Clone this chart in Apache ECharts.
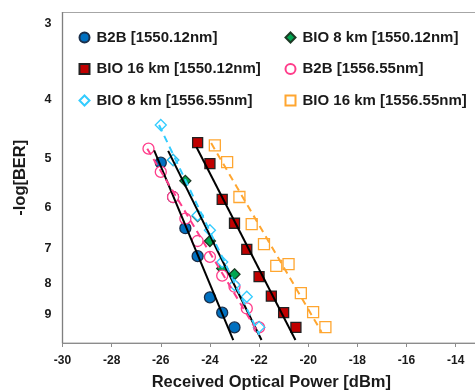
<!DOCTYPE html>
<html>
<head>
<meta charset="utf-8">
<script src="https://cdn.jsdelivr.net/npm/echarts@6/dist/echarts.min.js"></script>
<style>
  html, body { margin: 0; padding: 0; background: #fff; }
  #chart { width: 475px; height: 391px; }
</style>
</head>
<body>
<div id="chart"></div>
<script>
// measured points, x = received power [dBm], y = -log(BER)
const b2b1550X = [-26, -25.5, -25, -24.5, -24, -23.5, -23];
const b2b1550Y = [5.07, 5.77, 6.49, 7.21, 8.42, 8.92, 9.43];
const bio8_1550X = [-25.5, -25, -24.5, -24, -23.5, -23, -22];
const bio8_1550Y = [5.02, 5.43, 6.20, 6.81, 7.55, 7.72, 9.42];
const bio16_1550X = [-24.5, -24, -23.5, -23, -22.5, -22, -21.5, -21, -20.5];
const bio16_1550Y = [4.70, 5.09, 5.82, 6.37, 7.03, 7.79, 8.38, 8.92, 9.43];
const b2b1556X = [-26.5, -26, -25.5, -25, -24.5, -24, -23.5, -23, -22.5, -22];
const b2b1556Y = [4.81, 5.25, 5.77, 6.26, 6.81, 7.23, 7.76, 8.09, 8.78, 9.43];
const bio8_1556X = [-26, -25.5, -24.5, -24, -23.5, -23, -22.5, -22];
const bio8_1556Y = [4.40, 5.02, 6.18, 6.54, 7.37, 8.04, 8.40, 9.42];
const bio16_1556X = [-23.8, -23.3, -22.8, -22.3, -21.8, -21.3, -20.8, -20.3, -19.8, -19.3];
const bio16_1556Y = [4.75, 5.06, 5.77, 6.39, 6.89, 7.48, 7.43, 8.29, 8.90, 9.42];

// trend line end points
const fitB2b1550X = [-26.27, -23.05];
const fitB2b1550Y = [4.84, 9.89];
const fitBio8_1550X = [-25.7, -21.9];
const fitBio8_1550Y = [4.85, 9.89];
const fitBio16_1550X = [-24.55, -20.52];
const fitBio16_1550Y = [4.78, 9.89];
const fitB2b1556X = [-26.55, -21.99];
const fitB2b1556Y = [4.81, 9.70];
const fitBio8_1556X = [-26.07, -21.99];
const fitBio8_1556Y = [4.40, 9.70];
const fitBio16_1556X = [-23.95, -19.46];
const fitBio16_1556Y = [4.71, 9.59];

const yTicks = [3, 4, 5, 6, 7, 8, 9];

const names = [
  'B2B [1550.12nm]', 'BIO 8 km [1550.12nm]', 'BIO 16 km [1550.12nm]',
  'B2B [1556.55nm]', 'BIO 8 km [1556.55nm]', 'BIO 16 km [1556.55nm]'
];

const zip = (xs, ys) => xs.map((x, i) => [x, ys[i]]);

const markers = [
  { x: b2b1550X, y: b2b1550Y, symbol: 'circle', size: 11, fill: '#0070c0', border: '#1b2f4a' },
  { x: bio8_1550X, y: bio8_1550Y, symbol: 'diamond', size: 11, fill: '#00a651', border: '#1c3a24' },
  { x: bio16_1550X, y: bio16_1550Y, symbol: 'rect', size: 10, fill: '#c00000', border: '#222' },
  { x: b2b1556X, y: b2b1556Y, symbol: 'circle', size: 11, fill: '#fff', border: '#ff3d8b' },
  { x: bio8_1556X, y: bio8_1556Y, symbol: 'diamond', size: 11, fill: '#fff', border: '#33ccff' },
  { x: bio16_1556X, y: bio16_1556Y, symbol: 'rect', size: 11, fill: '#fff', border: '#ffa630' }
];

const fits = [
  { x: fitB2b1550X, y: fitB2b1550Y, color: '#000', dash: 'solid' },
  { x: fitBio8_1550X, y: fitBio8_1550Y, color: '#000', dash: 'solid' },
  { x: fitBio16_1550X, y: fitBio16_1550Y, color: '#000', dash: 'solid' },
  { x: fitB2b1556X, y: fitB2b1556Y, color: '#ff3d8b', dash: [7, 5] },
  { x: fitBio8_1556X, y: fitBio8_1556Y, color: '#33ccff', dash: [7, 5] },
  { x: fitBio16_1556X, y: fitBio16_1556Y, color: '#ffa630', dash: [7, 5] }
];

const series = [];
markers.forEach((m, i) => {
  series.push({
    name: names[i],
    type: 'scatter',
    data: zip(m.x, m.y),
    symbol: m.symbol,
    symbolSize: m.size,
    itemStyle: { color: m.fill, borderColor: m.border, borderWidth: 1.3, opacity: 1 },
    z: 2 + i
  });
});
fits.forEach((f, i) => {
  series.push({
    name: 'fit' + i,
    type: 'line',
    data: zip(f.x, f.y),
    showSymbol: false,
    symbol: 'none',
    lineStyle: { color: f.color, width: 2, type: f.dash },
    z: 10
  });
});

const legendCommon = {
  orient: 'vertical',
  top: 30,
  padding: 0,
  itemGap: 16.5,
  itemWidth: 10,
  itemHeight: 10,
  selectedMode: false,
  textStyle: {
    fontFamily: 'Liberation Sans', fontWeight: 'bold', fontSize: 15, color: '#1a1a1a',
    padding: [0, 0, 0, 2]
  }
};

const option = {
  animation: false,
  textStyle: { fontFamily: 'Liberation Sans' },
  grid: {
    left: 62.5, top: 12.5, width: 417.7, height: 330.5,
    containLabel: false,
    outerBoundsMode: 'none',
    show: true, borderColor: '#a6a6a6', borderWidth: 1.2
  },
  legend: [
    Object.assign({}, legendCommon, { left: 78.5, data: [names[0], names[2], names[4]] }),
    Object.assign({}, legendCommon, { left: 284.5, data: [names[1], names[3], names[5]] })
  ],
  xAxis: {
    type: 'value',
    min: -30, max: -13, interval: 2,
    name: 'Received Optical Power [dBm]',
    nameLocation: 'middle',
    nameGap: 31,
    nameTextStyle: { fontFamily: 'Liberation Sans', fontWeight: 'bold', fontSize: 16.5, color: '#1a1a1a' },
    axisLine: { show: true, lineStyle: { color: '#8c8c8c', width: 1.2 } },
    axisTick: { show: true, inside: false, length: 4, lineStyle: { color: '#8c8c8c' } },
    axisLabel: { showMaxLabel: false, margin: 12, fontWeight: 'bold', fontSize: 12, color: '#1a1a1a' },
    splitLine: { show: false }
  },
  yAxis: {
    type: 'log',
    logBase: 10,
    inverse: true,
    min: 2.88, max: 10,
    name: '-log[BER]',
    nameLocation: 'middle',
    nameGap: 34,
    nameTextStyle: { fontFamily: 'Liberation Sans', fontWeight: 'bold', fontSize: 16.5, color: '#1a1a1a' },
    axisLine: { show: true, lineStyle: { color: '#7f7f7f', width: 1.2 } },
    axisTick: { show: false },
    axisLabel: { customValues: yTicks, margin: 11, fontWeight: 'bold', fontSize: 12.5, color: '#1a1a1a' },
    splitLine: { show: false },
    minorTick: { show: false }
  },
  series: series
};

const chart = echarts.init(document.getElementById('chart'));
chart.setOption(option);
</script>
</body>
</html>
